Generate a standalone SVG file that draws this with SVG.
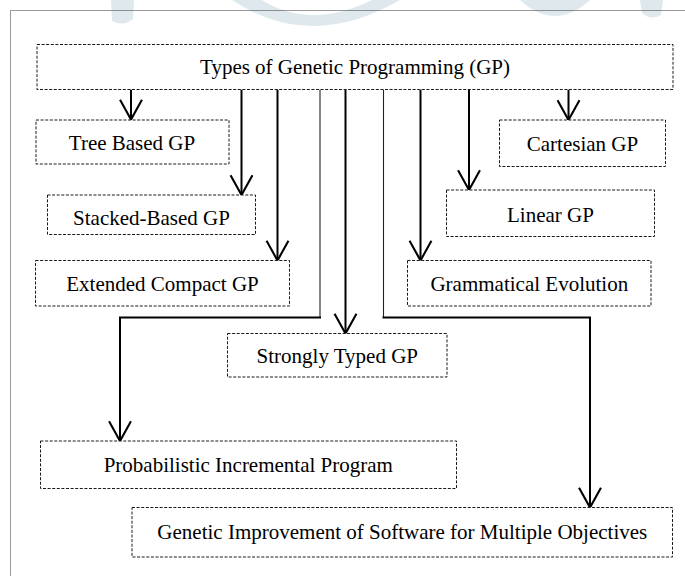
<svg xmlns="http://www.w3.org/2000/svg" width="685" height="576" viewBox="0 0 685 576">
  <style>
    .box { fill: #ffffff; stroke: #1a1a1a; stroke-width: 1; stroke-dasharray: 3 1.6; }
    .lbl { font-family: "Liberation Serif", "Times New Roman", serif; font-size: 21px; fill: #000; text-anchor: middle; }
    .arr { fill: none; stroke: #000; stroke-width: 2; marker-end: url(#vhead); }
    .thin { fill: none; stroke: #222; stroke-width: 1.1; }
    .thick { fill: none; stroke: #000; stroke-width: 2; }
    .wm { fill: #dfe9ed; }
  </style>
  <defs>
    <marker id="vhead" markerUnits="userSpaceOnUse" markerWidth="24" markerHeight="26" viewBox="-21 -12 23 24" refX="0" refY="0" orient="auto">
      <path d="M-19,-10.5 L0,0 L-19,10.5" fill="none" stroke="#000" stroke-width="2"/>
    </marker>
  </defs>
  <rect x="0" y="0" width="685" height="576" fill="#ffffff"/>
  <g id="watermark">
    <path class="wm" d="M111,0 L134,0 L133,19 Q123,27 112,21 Z"/>
    <path class="wm" d="M232,0 Q310,52 400,0 L372,0 Q310,30 262,0 Z"/>
    <path class="wm" d="M520,0 Q555,32 590,0 Z"/>
    <path class="wm" d="M640,0 L663,0 L661,15 Q651,21 642,13 Z"/>
  </g>
  <rect id="frame" x="10.5" y="10.5" width="690" height="580" fill="none" stroke="#333" stroke-width="1" stroke-dasharray="1 1"/>
  <g id="connectors">
    <line class="arr" x1="131" y1="89.5" x2="131" y2="119.5"/>
    <line class="arr" x1="241.5" y1="89.5" x2="241.5" y2="195"/>
    <line class="arr" x1="277.5" y1="89.5" x2="277.5" y2="260.5"/>
    <line class="arr" x1="345.5" y1="89.5" x2="345.5" y2="333.5"/>
    <line class="arr" x1="420.5" y1="89.5" x2="420.5" y2="260.5"/>
    <line class="arr" x1="469" y1="89.5" x2="469" y2="190"/>
    <line class="arr" x1="568.5" y1="89.5" x2="568.5" y2="120"/>
    <path class="thin" d="M320,89.5 V317.5"/>
    <path class="thick" d="M321,317.5 H120 V430"/>
    <line class="arr" x1="120" y1="420" x2="120" y2="441"/>
    <path class="thin" d="M383.5,89.5 V317.5"/>
    <path class="thick" d="M382.5,317.5 H590 V490"/>
    <line class="arr" x1="590" y1="480" x2="590" y2="507.5"/>
  </g>
  <g id="root">
    <rect class="box" x="37" y="44.5" width="636" height="45"/>
    <text class="lbl" x="355" y="74">Types of Genetic Programming (GP)</text>
  </g>
  <g id="tree">
    <rect class="box" x="36" y="120" width="193" height="44"/>
    <text class="lbl" x="132" y="150">Tree Based GP</text>
  </g>
  <g id="cartesian">
    <rect class="box" x="499.5" y="120" width="166" height="46.5"/>
    <text class="lbl" x="582.5" y="151">Cartesian GP</text>
  </g>
  <g id="stacked">
    <rect class="box" x="47.5" y="195" width="208" height="39.5"/>
    <text class="lbl" x="151.5" y="224.5">Stacked-Based GP</text>
  </g>
  <g id="linear">
    <rect class="box" x="446.5" y="190" width="208" height="46.5"/>
    <text class="lbl" x="550.5" y="221.5">Linear GP</text>
  </g>
  <g id="extended">
    <rect class="box" x="35.5" y="260.5" width="254" height="45.5"/>
    <text class="lbl" x="162.5" y="291">Extended Compact GP</text>
  </g>
  <g id="grammatical">
    <rect class="box" x="407.5" y="260.5" width="243.5" height="45.5"/>
    <text class="lbl" x="529.3" y="290.5">Grammatical Evolution</text>
  </g>
  <g id="strongly">
    <rect class="box" x="227.5" y="333.5" width="219.5" height="43.5"/>
    <text class="lbl" x="337.3" y="363">Strongly Typed GP</text>
  </g>
  <g id="pip">
    <rect class="box" x="40.5" y="441" width="416" height="47.5"/>
    <text class="lbl" x="248.3" y="471.5">Probabilistic Incremental Program</text>
  </g>
  <g id="gismo">
    <rect class="box" x="132" y="507.5" width="540.5" height="49.5"/>
    <text class="lbl" x="402.3" y="539">Genetic Improvement of Software for Multiple Objectives</text>
  </g>
</svg>
